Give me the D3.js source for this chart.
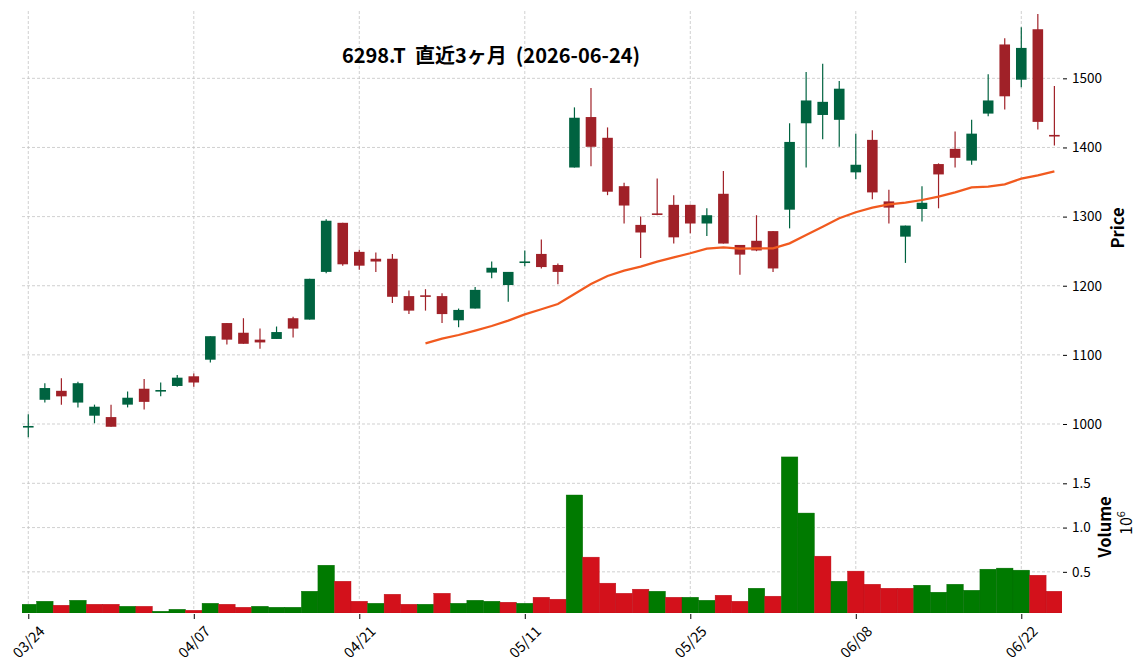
<!DOCTYPE html>
<html>
<head>
<meta charset="utf-8">
<script src="https://cdn.jsdelivr.net/npm/d3@7"></script>
<style>
  html, body { margin: 0; padding: 0; background: #fff; }
  svg { display: block; font-family: "Noto Sans CJK JP", "Noto Sans", sans-serif; }
</style>
</head>
<body>
<svg id="chart" width="1148" height="670"></svg>
<script>
// trading days shown on the chart
const dates = [
  "2026-03-24","2026-03-25","2026-03-26","2026-03-27","2026-03-30","2026-03-31","2026-04-01","2026-04-02","2026-04-03","2026-04-06",
  "2026-04-07","2026-04-08","2026-04-09","2026-04-10","2026-04-13","2026-04-14","2026-04-15","2026-04-16","2026-04-17","2026-04-20",
  "2026-04-21","2026-04-22","2026-04-23","2026-04-24","2026-04-27","2026-04-28","2026-04-30","2026-05-01","2026-05-07","2026-05-08",
  "2026-05-11","2026-05-12","2026-05-13","2026-05-14","2026-05-15","2026-05-18","2026-05-19","2026-05-20","2026-05-21","2026-05-22",
  "2026-05-25","2026-05-26","2026-05-27","2026-05-28","2026-05-29","2026-06-01","2026-06-02","2026-06-03","2026-06-04","2026-06-05",
  "2026-06-08","2026-06-09","2026-06-10","2026-06-11","2026-06-12","2026-06-15","2026-06-16","2026-06-17","2026-06-18","2026-06-19",
  "2026-06-22","2026-06-23","2026-06-24"
];
const opens = [995,1035,1048,1031,1012,1010,1028,1051,1047,1055, 1069,1093,1146,1132,1122,1123,1153,1151,1220,1291,
  1249,1239,1239,1185,1186,1185,1150,1167,1219,1201, 1233,1246,1230,1371,1444,1414,1344,1288,1304,1317,
  1317,1290,1333,1259,1265,1279,1310,1435,1447,1440, 1364,1411,1322,1271,1311,1376,1398,1381,1449,1549, 1498,1571,1418];
const highs = [1014,1059,1066,1061,1028,1028,1047,1065,1060,1071, 1073,1127,1146,1153,1138,1141,1155,1210,1296,1291,
  1252,1248,1246,1193,1195,1189,1167,1198,1235,1220, 1251,1267,1232,1458,1486,1429,1349,1300,1355,1331,
  1317,1312,1366,1259,1302,1279,1435,1509,1521,1496, 1420,1425,1339,1287,1344,1377,1423,1440,1506,1558, 1574,1593,1489];
const lows = [981,1031,1028,1024,1001,996,1024,1021,1040,1054, 1054,1089,1115,1116,1109,1123,1125,1151,1218,1229,
  1223,1220,1175,1159,1164,1146,1140,1167,1211,1177, 1228,1225,1202,1371,1373,1331,1290,1240,1302,1261,
  1276,1272,1261,1216,1250,1220,1283,1371,1412,1401, 1354,1325,1290,1233,1293,1312,1371,1375,1445,1455, 1487,1426,1403];
const closes = [997,1052,1040,1059,1025,996,1038,1032,1049,1067, 1060,1127,1122,1116,1118,1133,1138,1210,1294,1231,
  1229,1235,1184,1164,1184,1159,1165,1194,1226,1220, 1235,1227,1220,1443,1401,1336,1316,1277,1303,1270,
  1290,1302,1261,1245,1251,1225,1408,1468,1466,1485, 1375,1335,1313,1287,1320,1361,1385,1420,1468,1474, 1544,1437,1416];
const volumes = [134000,168000,123000,179000,134000,134000,111000,111000,55000,77000,
  66000,145000,134000,100000,111000,100000,100000,281000,575000,394000,
  168000,145000,247000,134000,134000,258000,145000,179000,168000,157000,
  145000,213000,191000,1368000,666000,372000,258000,304000,281000,213000,
  213000,179000,236000,168000,315000,225000,1798000,1164000,677000,394000,
  508000,360000,315000,315000,349000,270000,360000,292000,530000,542000,
  519000,462000,281000];
// 25-day moving average, starts at the 25th session
const maStart = 24;
const ma25 = [1116.7,1123.4,1128.7,1135,1141.8,1149.5,1158.6,1165.9,1173.6,1188,
  1202.5,1214,1221.8,1227.6,1234.8,1241,1246.9,1253.6,1255.5,1253.6,
  1254,1254,1261.3,1273.4,1285.4,1297.5,1306.2,1312.9,1317.7,1320.2,
  1324,1328.8,1335.1,1342.3,1343.3,1346.7,1354.9,1359.7,1365.5];
const priceTicks = [1000, 1100, 1200, 1300, 1400, 1500];
const volumeTicks = [500000, 1000000, 1500000];
const dateTickEvery = 10;
const title = "6298.T  直近3ヶ月  (2026-06-24)";

function draw_chart() {
    const svg = d3.select('#chart');
    const left = 22, right = 1062;
    const priceTop = 11, priceBottom = 441;
    const volTop = 441, volBottom = 613;

    const upCandle = '#006340', downCandle = '#a02128';
    const upVol = '#007a00', downVol = '#d3111b';

    const data = dates.map((d, i) => ({
        i, date: d, o: opens[i], h: highs[i], l: lows[i], c: closes[i], v: volumes[i],
        volUp: i === 0 ? true : closes[i] >= closes[i - 1]
    }));

    const x = d3.scaleLinear()
        .domain([-0.38, dates.length - 1 + 0.46])
        .range([left, right]);
    const step = x(1) - x(0);

    const yPrice = d3.scaleLinear().domain([975.4, 1597.4]).range([priceBottom, priceTop]);
    const yVol = d3.scaleLinear().domain([35000, 1978000]).range([volBottom, volTop]);

    const tickIdx = d3.range(0, dates.length, dateTickEvery);

    // grid
    const grid = svg.append('g')
        .attr('stroke', '#c4c4c4')
        .attr('stroke-width', 0.8)
        .attr('stroke-dasharray', '3,2');
    grid.selectAll('.vg').data(tickIdx).enter().append('line')
        .attr('x1', d => x(d)).attr('x2', d => x(d))
        .attr('y1', priceTop).attr('y2', volBottom);
    grid.selectAll('.hp').data(priceTicks).enter().append('line')
        .attr('x1', left).attr('x2', right)
        .attr('y1', d => yPrice(d)).attr('y2', d => yPrice(d));
    grid.selectAll('.hv').data(volumeTicks).enter().append('line')
        .attr('x1', left).attr('x2', right)
        .attr('y1', d => yVol(d)).attr('y2', d => yVol(d));

    // volume bars
    const volG = svg.append('g').attr('clip-path', 'url(#clipVol)');
    svg.append('clipPath').attr('id', 'clipVol').append('rect')
        .attr('x', left).attr('y', volTop).attr('width', right - left).attr('height', volBottom - volTop);
    volG.selectAll('rect').data(data).enter().append('rect')
        .attr('x', d => x(d.i) - step / 2)
        .attr('width', step)
        .attr('y', d => yVol(d.v))
        .attr('height', d => volBottom - yVol(d.v))
        .attr('fill', d => d.volUp ? upVol : downVol)
        .attr('stroke', d => d.volUp ? '#006a00' : '#b80f18')
        .attr('stroke-width', 0.4);

    // candles
    const bw = step * 0.64;
    const candles = svg.append('g');
    candles.selectAll('.wick').data(data).enter().append('line')
        .attr('x1', d => x(d.i)).attr('x2', d => x(d.i))
        .attr('y1', d => yPrice(d.h)).attr('y2', d => yPrice(d.l))
        .attr('stroke', d => d.c >= d.o ? upCandle : downCandle)
        .attr('stroke-width', 1.2);
    candles.selectAll('.body').data(data).enter().append('rect')
        .attr('x', d => x(d.i) - bw / 2)
        .attr('width', bw)
        .attr('y', d => {
            const top = yPrice(Math.max(d.o, d.c));
            const hgt = Math.abs(yPrice(d.o) - yPrice(d.c));
            return hgt < 1.6 ? top - (1.6 - hgt) / 2 : top;
        })
        .attr('height', d => Math.max(1.6, Math.abs(yPrice(d.o) - yPrice(d.c))))
        .attr('fill', d => d.c >= d.o ? upCandle : downCandle);

    // moving average
    const line = d3.line()
        .x((d, k) => x(maStart + k))
        .y(d => yPrice(d));
    svg.append('path')
        .datum(ma25)
        .attr('d', line)
        .attr('fill', 'none')
        .attr('stroke', '#f15a1f')
        .attr('stroke-width', 2.2);

    // price axis on the right
    const pAxis = svg.append('g')
        .attr('transform', `translate(${right + 1},0)`)
        .call(d3.axisRight(yPrice).tickValues(priceTicks).tickSize(4).tickPadding(5).tickFormat(d3.format('d')));
    pAxis.select('.domain').remove();

    const vAxis = svg.append('g')
        .attr('transform', `translate(${right + 1},0)`)
        .call(d3.axisRight(yVol).tickValues(volumeTicks).tickSize(4).tickPadding(5).tickFormat(d => (d / 1e6).toFixed(1)));
    vAxis.select('.domain').remove();

    [pAxis, vAxis].forEach(a => {
        a.selectAll('text').attr('font-size', 13.5).attr('fill', '#000').attr('font-family', '"Noto Sans CJK JP"');
        a.selectAll('.tick line').attr('stroke', '#000');
    });

    // date axis
    const xAxis = svg.append('g')
        .attr('transform', `translate(0,${volBottom + 1})`)
        .call(d3.axisBottom(x).tickValues(tickIdx).tickSize(5)
            .tickFormat(i => dates[i].slice(5).replace('-', '/')));
    xAxis.select('.domain').remove();
    xAxis.selectAll('.tick line').attr('stroke', '#000');
    xAxis.selectAll('text')
        .attr('y', 0).attr('dy', '0.35em')
        .attr('transform', 'translate(0,28) rotate(-45)')
        .style('text-anchor', 'middle')
        .attr('font-size', 14.5).attr('fill', '#000').attr('font-family', '"Noto Sans CJK JP"');

    // axis labels
    svg.append('text')
        .attr('transform', `translate(1124,228) rotate(-90)`)
        .attr('text-anchor', 'middle')
        .attr('font-size', 16.5).attr('font-weight', 'bold')
        .text('Price');
    svg.append('text')
        .attr('transform', `translate(1111,527) rotate(-90)`)
        .attr('text-anchor', 'middle')
        .attr('font-size', 16.5).attr('font-weight', 'bold')
        .text('Volume');
    const off = svg.append('text')
        .attr('transform', `translate(1132,523) rotate(-90)`)
        .attr('text-anchor', 'middle')
        .attr('font-size', 16);
    off.append('tspan').text('10');
    off.append('tspan').attr('dy', -7).attr('font-size', 11).text('6');

    // title
    svg.append('text')
        .attr('x', 491).attr('y', 63)
        .attr('text-anchor', 'middle')
        .attr('font-size', 20).attr('font-weight', 'bold')
        .style('white-space', 'pre')
        .text(title);
}

draw_chart();
</script>
</body>
</html>
